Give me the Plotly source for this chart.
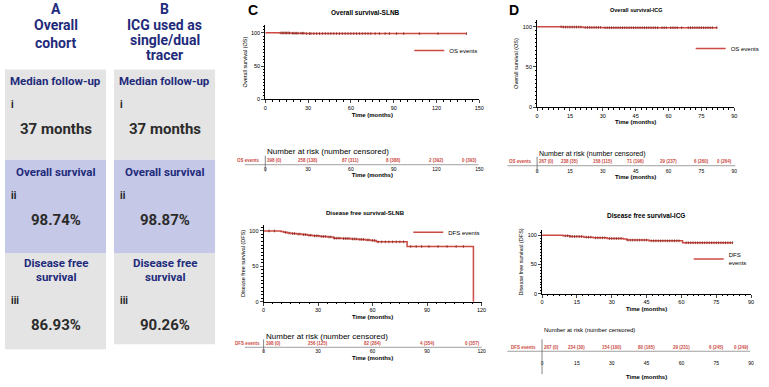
import plotly.graph_objects as go

W, H = 769, 387
def PX(p): return p / W
def PY(p): return 1 - p / H

# ---------------- data ----------------
# Panels A / B summary
SUMMARY_A = {"title": ["A", "Overall", "cohort"], "fu": "37 months", "os": "98.74%", "dfs": "86.93%"}
SUMMARY_B = {"title": ["B", "ICG used as", "single/dual", "tracer"], "fu": "37 months", "os": "98.87%", "dfs": "90.26%"}

# Kaplan-Meier curves (time in months, survival %)
OS_SLNB_T = [0, 10, 18, 28, 141]
OS_SLNB_S = [100, 99.7, 99.3, 98.74, 98.74]
OS_SLNB_CENS = [11, 12, 13, 14, 15, 16, 17, 19, 20, 21, 22, 23, 25, 26, 27, 29, 31, 32, 34, 36, 38, 40,
                42, 44, 46, 48, 50, 52, 54, 56, 58, 60, 62, 64, 66, 68, 70, 72, 74, 77, 80, 84, 87, 92, 97, 108, 121, 141]

DFS_SLNB_T = [0, 9.5, 11, 13, 15, 18, 21, 24, 27, 31, 35, 38.5, 43, 48, 52, 56, 59, 62, 79, 115.5]
DFS_SLNB_S = [100, 99, 98, 97, 96.2, 95.5, 94.8, 93.8, 93, 92.2, 91.5, 89.7, 89.2, 88.6, 88, 87.3, 86.5, 84.5, 78, 0]
DFS_SLNB_CENS = [3, 6, 12, 14, 16, 17, 19, 20, 22, 23, 25, 26, 28, 29, 30, 32, 33, 34, 36, 37, 39, 40, 41,
                 42, 44, 45, 46, 47, 49, 50, 51, 53, 54, 55, 57, 58, 60, 61, 63, 65, 67, 69, 71, 73, 75, 77,
                 81, 84, 87, 91, 96, 101, 106, 110]

OS_ICG_T = [0, 12, 21, 30, 82.3]
OS_ICG_S = [100, 99.6, 99.2, 98.87, 98.87]
OS_ICG_CENS = [11, 12, 13, 14, 15, 16, 17, 18, 19, 20, 22, 23, 24, 25, 26, 27, 28, 29, 31, 32, 33, 34, 35,
               36, 37, 38, 39, 40, 41, 42, 43, 44, 45, 46, 47, 48, 49, 50, 51, 52, 53, 54, 55, 57, 58, 59,
               61, 62, 63, 64, 66, 69, 70, 71, 72, 73, 74, 75, 76, 77, 78, 79, 80, 82]

DFS_ICG_T = [0, 9, 12, 18, 22, 28, 35, 36.5, 46, 60.5, 82]
DFS_ICG_S = [100, 99, 97.8, 96.6, 95.5, 94.4, 93.3, 91.6, 90.4, 87.1, 87.1]
DFS_ICG_CENS = [10, 11, 12, 13, 14, 15, 16, 17, 19, 20, 21, 23, 24, 25, 26, 27, 29, 30, 31, 32, 33, 34,
                37, 38, 39, 40, 41, 42, 43, 44, 45, 47, 48, 49, 50, 51, 52, 53, 54, 55, 56, 57, 58, 59,
                62, 63, 64, 65, 66, 67, 68, 69, 70, 71, 72, 73, 74, 75, 76, 77, 78, 79, 80, 81, 82]

# Number-at-risk tables
RISK_C_OS_T = [0, 30, 60, 90, 120, 150]
RISK_C_OS = ["398 (0)", "258 (138)", "87 (311)", "8 (388)", "2 (392)", "0 (393)"]
RISK_C_DFS_T = [0, 30, 60, 90, 120]
RISK_C_DFS = ["398 (0)", "256 (125)", "82 (284)", "4 (354)", "0 (357)"]
RISK_D_OS_T = [0, 15, 30, 45, 60, 75, 90]
RISK_D_OS = ["267 (0)", "238 (35)", "158 (115)", "71 (196)", "29 (237)", "6 (260)", "0 (264)"]
RISK_D_DFS_T = [0, 15, 30, 45, 60, 75, 90]
RISK_D_DFS = ["267 (0)", "234 (30)", "154 (100)", "80 (165)", "29 (231)", "6 (245)", "0 (249)"]

RED = "#cc4a44"
NAVY = "#1f2b7b"
DARK = "#2b2b2b"
CF = "Liberation Sans, Arial, sans-serif"
BF = "Roboto, sans-serif"

def surv_at(t, T, S):
    v = S[0]
    for ti, si in zip(T, S):
        if ti <= t:
            v = si
    return v

fig = go.Figure()

panels = [
    ("OS events", OS_SLNB_T, OS_SLNB_S, OS_SLNB_CENS, "x", "y", "legend"),
    ("DFS events", DFS_SLNB_T, DFS_SLNB_S, DFS_SLNB_CENS, "x2", "y2", "legend2"),
    ("OS events", OS_ICG_T, OS_ICG_S, OS_ICG_CENS, "x3", "y3", "legend3"),
    ("DFS<br>events", DFS_ICG_T, DFS_ICG_S, DFS_ICG_CENS, "x4", "y4", "legend4"),
]
for name, T, S, C, xa, ya, lg in panels:
    fig.add_trace(go.Scatter(x=T, y=S, mode="lines", line=dict(color=RED, width=1.5, shape="hv"),
                             xaxis=xa, yaxis=ya, name=name, legend=lg, showlegend=True))
    fig.add_trace(go.Scatter(x=C, y=[surv_at(c, T, S) for c in C], mode="markers",
                             marker=dict(symbol="line-ns", size=2, line=dict(color="#7a1a12", width=0.7)),
                             xaxis=xa, yaxis=ya, showlegend=False, hoverinfo="skip"))

main = [
    ("", (265.7, 481.7), (100, 25), 150, 30, 112, "Overall survival (OS)", "Overall survival-SLNB"),
    ("2", (264, 484), (304, 227), 120, 30, 108, "Disease free survival (DFS)", "Disease free survival-SLNB"),
    ("3", (540, 739), (108, 20), 90, 15, 108.6, "Overall survival (OS)", "Overall survival-ICG"),
    ("4", (545, 756), (296, 232), 90, 15, 108.5, "Disease free survival (DFS)", "Disease free survival-ICG"),
]
axfont = dict(family=CF, size=5.5, color="black")
for sfx, xd, yd, xmax, dt, ytop, ytitle, ttl in main:
    fig.layout["xaxis" + sfx] = dict(
        domain=[PX(xd[0]), PX(xd[1])], range=[0, xmax], anchor="y" + sfx,
        showline=True, linecolor="black", linewidth=1, ticks="outside", ticklen=3, tickwidth=1,
        tickvals=list(range(0, xmax + 1, dt)), tickfont=axfont, showgrid=False, zeroline=False,
        minor=dict(ticks="outside", ticklen=1.5, dtick=dt / 6, tickcolor="black"),
        title=dict(text="<b>Time (months)</b>", font=dict(family=CF, size=6, color="black"), standoff=2))
    fig.layout["yaxis" + sfx] = dict(
        domain=[PY(yd[0]), PY(yd[1])], range=[0, ytop], anchor="x" + sfx,
        showline=True, linecolor="black", linewidth=1, ticks="outside", ticklen=3, tickwidth=1,
        tickvals=[0, 50, 100], tickfont=axfont, showgrid=False, zeroline=False,
        minor=dict(ticks="outside", ticklen=1.5, dtick=5, tickcolor="black"),
        title=dict(text=ytitle, font=dict(family=CF, size=5.5, color="black"), standoff=3))

risk = [
    ("5", (265.7, 481.7), 166, 150, 30, RISK_C_OS_T, RISK_C_OS, "OS events", 262, 153, 162, (245, 481), (157, 173), 8, 2),
    ("6", (264, 484), 350, 120, 30, RISK_C_DFS_T, RISK_C_DFS, "DFS events", 262, 339, 346, (245, 484), (342, 355), 8, 2),
    ("7", (540, 739), 168, 90, 15, RISK_D_OS_T, RISK_D_OS, "OS events", 537, 155, 163, (510, 740), (158, 174), 7, 2),
    ("8", (545, 756), 362, 90, 15, RISK_D_DFS_T, RISK_D_DFS, "DFS events", 541, 333, 350, (510, 755), (342, 377), 6, 9),
]
ann = []
shapes = []
for sfx, xd, ybot, xmax, dt, RT, RV, rlab, rlabx, hy, ry, hl, vl, hsize, stand in risk:
    fig.layout["xaxis" + sfx] = dict(
        domain=[PX(xd[0]), PX(xd[1])], range=[0, xmax], anchor="y" + sfx, showline=False,
        ticks="", tickvals=RT, tickfont=dict(family=CF, size=5, color="black"), showgrid=False, zeroline=False,
        title=dict(text="<b>Time (months)</b>", font=dict(family=CF, size=6, color="black"), standoff=stand))
    fig.layout["yaxis" + sfx] = dict(domain=[PY(ybot), PY(ybot - 3)], range=[0, 1], visible=False, anchor="x" + sfx)
    ann.append(dict(text="Number at risk (number censored)", x=PX(xd[0]), y=PY(hy), xref="paper", yref="paper",
                    xanchor="left", yanchor="middle", showarrow=False, font=dict(family=CF, size=hsize, color="black")))
    ann.append(dict(text="<b>" + rlab + "</b>", x=PX(rlabx), y=PY(ry), xref="paper", yref="paper",
                    xanchor="right", yanchor="middle", showarrow=False, font=dict(family=CF, size=4.5, color=RED)))
    for i, (t, v) in enumerate(zip(RT, RV)):
        xa = "left" if i == 0 else ("right" if i == len(RT) - 1 else "center")
        ann.append(dict(text="<b>" + v + "</b>", x=t, y=PY(ry), xref="x" + sfx, yref="paper",
                        xanchor=xa, yanchor="middle", showarrow=False, font=dict(family=CF, size=4.5, color=RED)))
    shapes.append(dict(type="line", xref="paper", yref="paper", x0=PX(hl[0]), x1=PX(hl[1]),
                       y0=PY(ry + 4), y1=PY(ry + 4), line=dict(color="#888", width=0.8)))
    shapes.append(dict(type="line", xref="paper", yref="paper", x0=PX(xd[0]), x1=PX(xd[0]),
                       y0=PY(vl[0]), y1=PY(vl[1]), line=dict(color="#666", width=0.8)))

titles = [("Overall survival-SLNB", 367, 13, 6.5), ("Disease free survival-SLNB", 367, 215, 6),
          ("Overall survival-ICG", 640, 10, 5.5), ("Disease free survival-ICG", 650, 217, 6.5)]
for t, x, y, s in titles:
    ann.append(dict(text="<b>" + t + "</b>", x=PX(x), y=PY(y), xref="paper", yref="paper", xanchor="center",
                    yanchor="middle", showarrow=False, font=dict(family=CF, size=s, color="black")))

for t, x, y in [("C", 253, 10), ("D", 517, 10)]:
    ann.append(dict(text="<b>" + t + "</b>", x=PX(x), y=PY(y), xref="paper", yref="paper", xanchor="center",
                    yanchor="middle", showarrow=False, font=dict(family=CF, size=14, color="black")))

leg = [("legend", 411, 51), ("legend2", 410, 234), ("legend3", 695, 49), ("legend4", 693, 261)]
for name, x, y in leg:
    fig.layout[name] = dict(x=PX(x), y=PY(y), xanchor="left", yanchor="middle", bgcolor="rgba(0,0,0,0)",
                            font=dict(family=CF, size=6, color="black"), itemwidth=30, tracegroupgap=0)

for cx, x0, x1, bot, S in [(54, 3, 105, 352, SUMMARY_A), (164, 113, 215, 347, SUMMARY_B)]:
    shapes.append(dict(type="rect", xref="paper", yref="paper", x0=PX(x0), x1=PX(x1), y0=PY(161), y1=PY(70),
                       fillcolor="#e4e4e4", line=dict(width=0), layer="below"))
    shapes.append(dict(type="rect", xref="paper", yref="paper", x0=PX(x0), x1=PX(x1), y0=PY(255), y1=PY(161),
                       fillcolor="#c5c8e6", line=dict(width=0), layer="below"))
    shapes.append(dict(type="rect", xref="paper", yref="paper", x0=PX(x0), x1=PX(x1), y0=PY(bot), y1=PY(255),
                       fillcolor="#e4e4e4", line=dict(width=0), layer="below"))
    tys = [9, 25, 43] if len(S["title"]) == 3 else [9, 25, 40, 55]
    for t, y in zip(S["title"], tys):
        ann.append(dict(text="<b>" + t + "</b>", x=PX(cx), y=PY(y), xref="paper", yref="paper", showarrow=False,
                        xanchor="center", yanchor="middle", font=dict(family=BF, size=14, color=NAVY)))
    items = [("Median follow-up", 82, 11.5, NAVY), (S["fu"], 130, 15, DARK),
             ("Overall survival", 173, 11.5, NAVY), (S["os"], 222, 15, DARK),
             ("Disease free", 265, 11.5, NAVY), ("survival", 279, 11.5, NAVY), (S["dfs"], 328, 15, DARK)]
    for t, y, s, c in items:
        ann.append(dict(text="<b>" + t + "</b>", x=PX(cx), y=PY(y), xref="paper", yref="paper", showarrow=False,
                        xanchor="center", yanchor="middle", font=dict(family=BF, size=s, color=c)))
    for t, y in [("i", 105), ("ii", 197), ("iii", 303)]:
        ann.append(dict(text="<b>" + t + "</b>", x=PX(x0 + 4), y=PY(y), xref="paper", yref="paper", showarrow=False,
                        xanchor="left", yanchor="middle", font=dict(family=BF, size=10, color="#222222")))

fig.update_layout(width=W, height=H, margin=dict(l=0, r=0, t=0, b=0), paper_bgcolor="white",
                  plot_bgcolor="white", annotations=ann, shapes=shapes, showlegend=True)
fig.write_html("out.html")
